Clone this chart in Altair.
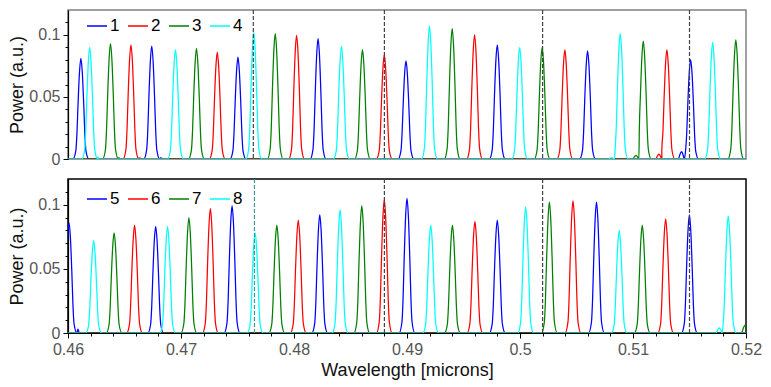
import altair as alt
import pandas as pd

# ---------------- data ----------------
TOP_CHANNELS = ["1", "2", "3", "4"]
BOT_CHANNELS = ["5", "6", "7", "8"]
COLORS = ["#0000ff", "#ff0000", "#008000", "#00ffff"]

# peak centres (microns) and heights (a.u.) per channel
TOP_PEAKS = {
    "1": [(0.46114, 0.081), (0.46741, 0.091), (0.47504, 0.082), (0.48213, 0.097),
          (0.48991, 0.079), (0.49799, 0.092), (0.50598, 0.087), (0.51510, 0.080)],
    "2": [(0.46557, 0.092), (0.47321, 0.086), (0.48023, 0.0995), (0.48799, 0.084),
          (0.49598, 0.100), (0.50397, 0.088), (0.51300, 0.088)],
    "3": [(0.46376, 0.093), (0.47137, 0.089), (0.47834, 0.101), (0.48606, 0.088),
          (0.49400, 0.105), (0.50196, 0.090), (0.51091, 0.095), (0.51910, 0.096)],
    "4": [(0.46192, 0.090), (0.46951, 0.088), (0.47644, 0.102), (0.48420, 0.091),
          (0.49199, 0.107), (0.49997, 0.090), (0.50887, 0.101), (0.51705, 0.094)],
}
TOP_BUMPS = {
    "1": [(0.46820, 0.001), (0.51430, 0.006)],
    "2": [(0.46630, 0.001), (0.51230, 0.004)],
    "3": [(0.46437, 0.002), (0.51027, 0.003)],
    "4": [(0.46251, 0.003), (0.50811, 0.001)],
}
BOT_PEAKS = {
    "5": [(0.46009, 0.086), (0.46776, 0.083), (0.47452, 0.099), (0.48228, 0.092),
          (0.49000, 0.105), (0.49799, 0.088), (0.50677, 0.102), (0.51499, 0.092)],
    "6": [(0.46589, 0.084), (0.47260, 0.097), (0.48038, 0.088), (0.48799, 0.104),
          (0.49601, 0.087), (0.50469, 0.103), (0.51289, 0.089)],
    "7": [(0.46408, 0.078), (0.47070, 0.090), (0.47848, 0.084), (0.48600, 0.099),
          (0.49402, 0.084), (0.50260, 0.102), (0.51082, 0.084)],
    "8": [(0.46227, 0.072), (0.46881, 0.083), (0.47656, 0.078), (0.48408, 0.096),
          (0.49210, 0.084), (0.50050, 0.098), (0.50878, 0.080), (0.51843, 0.091)],
}
BOT_BUMPS = {
    "5": [(0.46076, 0.005)],
    "6": [],
    "7": [(0.51990, 0.006)],
    "8": [(0.46936, 0.002), (0.51764, 0.004)],
}

# line shape of one resonance peak (offset in microns, relative height)
PROFILE_DX = [-0.0007, -0.00045, -0.00035, -0.00025, -0.00012, 0.0,
              0.00012, 0.00025, 0.00035, 0.00045, 0.0007]
PROFILE_Y = [0.0, 0.08, 0.25, 0.55, 0.87, 1.0, 0.87, 0.55, 0.25, 0.08, 0.0]
BUMP_DX = [-0.0003, -0.00012, 0.0, 0.00012, 0.00025]
BUMP_Y = [0.0, 0.7, 1.0, 0.6, 0.0]

# dashed marker lines (microns)
TOP_MARKS = [0.4764, 0.4880, 0.5020, 0.5150]
TOP_MARK_COLORS = ["#444444", "#444444", "#444444", "#444444"]
BOT_MARKS = [0.4765, 0.4880, 0.5020, 0.5150]
BOT_MARK_COLORS = ["#3a9a9a", "#444444", "#444444", "#444444"]

X_MIN, X_MAX = 0.46, 0.52
Y_MIN, Y_MAX = 0.0, 0.12
X_TICKS = [round(0.46 + 0.002 * i, 3) for i in range(31)]
Y_TICKS = [0.0, 0.01, 0.02, 0.03, 0.04, 0.05, 0.06, 0.07, 0.08, 0.09, 0.10, 0.11]


def build(peaks, bumps, channels):
    rows = []
    for ch in channels:
        feats = [(c, h, PROFILE_DX, PROFILE_Y) for c, h in peaks[ch]]
        feats += [(c, h, BUMP_DX, BUMP_Y) for c, h in bumps[ch]]
        feats.sort(key=lambda f: f[0])
        pts = [(X_MIN - 0.001, 0.0)]
        for c, h, dxs, ys in feats:
            for dx, yy in zip(dxs, ys):
                pts.append((c + dx, h * yy))
        pts.append((X_MAX + 0.001, 0.0))
        last = -1.0
        for k, (w, p) in enumerate(pts):
            if w <= last:
                continue
            last = w
            rows.append({"wl": w, "power": p, "ch": ch, "idx": k})
    return pd.DataFrame(rows)


top_df = build(TOP_PEAKS, TOP_BUMPS, TOP_CHANNELS)
bot_df = build(BOT_PEAKS, BOT_BUMPS, BOT_CHANNELS)
top_marks = pd.DataFrame({"wl": TOP_MARKS, "col": TOP_MARK_COLORS})
bot_marks = pd.DataFrame({"wl": BOT_MARKS, "col": BOT_MARK_COLORS})

FONT = "Liberation Sans"
X_MAJOR = "abs(datum.value*100 - round(datum.value*100)) < 0.001"
Y_MAJOR = "abs(datum.value*20 - round(datum.value*20)) < 0.001"

y_axis = alt.Axis(
    values=Y_TICKS,
    labelExpr=f"({Y_MAJOR}) ? format(datum.value, '.2~f') : ''",
    tickSize={"condition": {"test": Y_MAJOR, "value": 5}, "value": 3},
    title="Power (a.u.)",
    grid=False,
    labelPadding=3,
    titlePadding=2,
)
x_axis_bottom = alt.Axis(
    values=X_TICKS,
    labelExpr=f"({X_MAJOR}) ? format(datum.value, '.2~f') : ''",
    tickSize={"condition": {"test": X_MAJOR, "value": 5}, "value": 3},
    title="Wavelength [microns]",
    grid=False,
    labelPadding=3,
    labelFlush=False,
    titlePadding=4,
)

x_scale = alt.Scale(domain=[X_MIN, X_MAX], nice=False, zero=False)
y_scale = alt.Scale(domain=[Y_MIN, Y_MAX], nice=False, zero=False)


def panel(df, marks, channels, x_axis, frame_color, height, legend_y):
    legend = alt.Legend(
        orient="none", legendX=18, legendY=legend_y, direction="horizontal", title=None,
        symbolType="stroke", symbolSize=400, symbolStrokeWidth=1.5,
        labelFontSize=17, labelColor="black", labelFont=FONT,
        columnPadding=5, labelOffset=2,
    )
    lines = alt.Chart(df).mark_line(strokeWidth=1.25, clip=True, interpolate="monotone").encode(
        x=alt.X("wl:Q", scale=x_scale, axis=x_axis),
        y=alt.Y("power:Q", scale=y_scale, axis=y_axis),
        color=alt.Color("ch:N", scale=alt.Scale(domain=channels, range=COLORS), legend=legend),
        order=alt.Order("wl:Q"),
    )
    rules = alt.Chart(marks).mark_rule(strokeDash=[4, 2], strokeWidth=1.2).encode(
        x=alt.X("wl:Q", scale=x_scale, axis=x_axis),
        stroke=alt.Stroke("col:N", scale=None),
    )
    return alt.layer(lines, rules).properties(
        width=678, height=height,
        view=alt.ViewBackground(stroke=frame_color, strokeWidth=1.5),
    )


top = panel(top_df, top_marks, TOP_CHANNELS, None, "#808080", 149, 5)
bottom = panel(bot_df, bot_marks, BOT_CHANNELS, x_axis_bottom, "#000000", 154, 9)

chart = alt.vconcat(top, bottom, spacing=20, bounds="flush").resolve_scale(
    color="independent"
).resolve_legend(color="independent").properties(
    padding={"left": 0, "top": 0, "right": 0, "bottom": 0}
).configure_axis(
    labelFont=FONT, labelFontSize=16, labelColor="#555555",
    titleFont=FONT, titleFontSize=18, titleColor="#111111", titleFontWeight="normal",
    domainColor="#000000", tickColor="#000000", domainWidth=1.2,
).configure_view(stroke="#000000")

chart.save("out.html", embed_options={"renderer": "svg", "actions": False})
